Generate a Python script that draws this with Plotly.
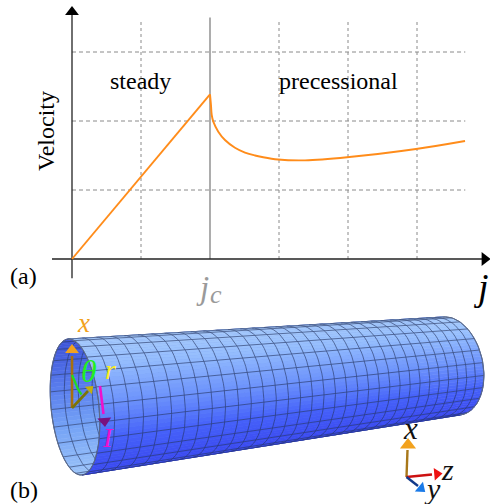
import numpy as np
import plotly.graph_objects as go

# ---------- panel (a) data (axis units: j, velocity) ----------
j_steady = [0.0, 2.0]
v_steady = [0.0, 2.387]
j_prec = [2.0, 2.014, 2.025, 2.048, 2.12, 2.217, 2.362, 2.507, 2.652, 2.754, 2.986, 3.377, 3.986, 4.986, 5.696]
v_prec = [2.387, 2.232, 2.087, 1.99, 1.845, 1.725, 1.613, 1.543, 1.5, 1.478, 1.442, 1.43, 1.474, 1.594, 1.71]
grid_j = [1, 3, 4, 5]
grid_v = [1, 2, 3]
j_c = 2
j_max_grid = 5.7
v_max_grid = 3.47

# ---------- panel (b) cylinder description (sketch units) ----------
ring_left = dict(cx=75.0, cy=407.0, a=24.0, vx=-7.0, vy=-68.0)
ring_right = dict(cx=451.5, cy=366.0, a=31.5, vx=-8.5, vy=-49.0)
n_rings = 33
n_rows = 24

GREY = "#8a8a8a"
ORANGE = "#ff8c1a"
SERIF = "Liberation Serif"

fig = go.Figure()


def line(x, y, color, width=1.0, dash=None, axes=("x", "y"), shape="linear", op=1.0):
    fig.add_trace(go.Scatter(x=x, y=y, mode="lines", xaxis=axes[0], yaxis=axes[1], opacity=op,
                             line=dict(color=color, width=width, dash=dash, shape=shape),
                             hoverinfo="skip", showlegend=False))


def head(x, y, angle, color, size, axes=("x", "y")):
    fig.add_trace(go.Scatter(x=[x], y=[y], mode="markers", xaxis=axes[0], yaxis=axes[1],
                             marker=dict(symbol="triangle-up", size=size, color=color, angle=angle,
                                         line=dict(width=0)),
                             hoverinfo="skip", showlegend=False))


# grid
for g in grid_j:
    line([g, g], [0, v_max_grid], GREY, 1.0, "3px,3px")
for g in grid_v:
    line([0, j_max_grid], [g, g], GREY, 1.0, "4px,3px")
line([j_c, j_c], [0, 3.5], "#808080", 1.3)

# axes
line([-0.29, 5.95], [0, 0], "#222222", 1.3)
line([0, 0], [-0.28, 3.6], "#222222", 1.3)
head(5.98, 0, 90, "#000000", 12)
head(0, 3.58, 0, "#000000", 12)

# curve
line(j_steady, v_steady, ORANGE, 1.9)
line(j_prec, v_prec, ORANGE, 1.9, shape="spline")

# ---------- cylinder ----------
B = ("x2", "y2")


def ring(t, phi):
    L, R = ring_left, ring_right
    cx = L["cx"] + t * (R["cx"] - L["cx"])
    cy = L["cy"] + t * (R["cy"] - L["cy"])
    a = L["a"] + t * (R["a"] - L["a"])
    vx = L["vx"] + t * (R["vx"] - L["vx"])
    vy = L["vy"] + t * (R["vy"] - L["vy"])
    return cx + a * np.cos(phi) * 0.994 + np.sin(phi) * vx, cy - a * np.cos(phi) * 0.108 + np.sin(phi) * vy


def mix(stops, s):
    xs = [p[0] for p in stops]
    return "rgb(%d,%d,%d)" % tuple(np.interp(s, xs, [p[1][i] for p in stops]) for i in range(3))


front_stops = [(-1, (58, 72, 240)), (-0.5, (70, 98, 250)), (0, (108, 146, 252)), (0.6, (150, 190, 254)), (1, (168, 204, 252))]
back_stops = [(-1, (156, 196, 250)), (-0.3, (118, 164, 246)), (0.3, (90, 126, 238)), (1, (60, 82, 216))]
spacing = np.linspace(15.0, 8.7, n_rings)          # columns get narrower towards the far end
ts = np.r_[0, np.cumsum(spacing)] / spacing.sum()
tt = np.linspace(0, 1, 40)
bands = 4


def strip(phi1, phi2, color):
    x1, y1 = ring(tt, phi1)
    x2, y2 = ring(tt[::-1], phi2)
    xs = np.r_[x1, x2, x1[0]]
    ys = np.r_[y1, y2, y1[0]]
    fig.add_trace(go.Scatter(x=xs, y=ys, mode="lines", fill="toself", fillcolor=color, xaxis="x2", yaxis="y2",
                             line=dict(color=color, width=0.6), hoverinfo="skip", showlegend=False))


dphi = 2 * np.pi / n_rows / bands
# back half (inside of the tube)
for k in range(n_rows // 2 * bands):
    p1 = np.pi / 2 + k * dphi
    strip(p1, p1 + dphi, mix(back_stops, np.sin(p1 + dphi / 2)))
fx, fy = [], []
for i in range(0, n_rows // 2 + 1):
    p = np.pi / 2 + i * 2 * np.pi / n_rows
    x, y = ring(tt, p)
    fx += list(x) + [None]
    fy += list(y) + [None]
for t in ts:
    x, y = ring(t, np.linspace(np.pi / 2, 3 * np.pi / 2, 40))
    fx += list(x) + [None]
    fy += list(y) + [None]
line(fx, fy, "#24345f", 0.8, axes=B, op=0.75)

# front half (outside of the tube)
for k in range(n_rows // 2 * bands):
    p1 = -np.pi / 2 + k * dphi
    strip(p1, p1 + dphi, mix(front_stops, np.sin(p1 + dphi / 2)))
fx, fy = [], []
for i in range(0, n_rows // 2 + 1):
    p = -np.pi / 2 + i * 2 * np.pi / n_rows
    x, y = ring(tt, p)
    fx += list(x) + [None]
    fy += list(y) + [None]
for t in ts:
    x, y = ring(t, np.linspace(-np.pi / 2, np.pi / 2, 40))
    fx += list(x) + [None]
    fy += list(y) + [None]
line(fx, fy, "#24345f", 0.8, axes=B, op=0.75)
# outlines
for t in (0.0, 1.0):
    x, y = ring(t, np.linspace(0, 2 * np.pi if t == 0 else np.pi, 80) - (0 if t == 0 else np.pi / 2))
    line(list(x), list(y), "#5f6b86", 1.0, axes=B)

# vectors in the tube
line([72, 72], [408, 356], "#a8700f", 2.6, axes=B)
head(72, 350, 0, "#f2a21e", 12, axes=B)
line([72, 88], [408, 391], "#7d7408", 2.6, axes=B)
head(90, 389, 47, "#c4b00c", 9, axes=B)
line([72, 75, 78, 81.5], [375, 382, 389, 394.5], "#22dd22", 2.2, axes=B, shape="spline")
line([100, 101.5, 103.5], [386, 398, 414], "#ee11cc", 2.6, axes=B, shape="spline")
head(104.5, 421, 175, "#7a1180", 12, axes=B)

# coordinate triad
line([406.5, 407.5], [477, 450], "#a8781a", 2.4, axes=B)
head(408, 445, 0, "#f2a21e", 14, axes=B)
line([406.5, 432], [477, 474.5], "#cc1111", 2.4, axes=B)
head(437, 474, 85, "#ee1111", 11, axes=B)
line([406.5, 418], [477, 486], "#123a8a", 2.4, axes=B)
head(421, 488.5, 130, "#1a7ae8", 11, axes=B)

# ---------- text ----------
texts = [
    ("steady", 140.5, 81, 24, "#000000", False, 0),
    ("precessional", 338, 81, 24, "#000000", False, 0),
    ("Velocity", 46, 131, 24, "#000000", False, -90),
    ("(a)", 23, 276, 24, "#000000", False, 0),
    ("(b)", 24, 490, 24, "#000000", False, 0),
    ("j", 202, 288, 33, "#9a9a9a", True, 0),
    ("c", 216, 294, 26, "#9a9a9a", True, 0),
    ("j", 481, 287, 38, "#000000", True, 0),
    ("x", 83, 323, 27, "#f2a21e", True, 0),
    ("θ", 89, 371, 32, "#22ee22", True, 0),
    ("r", 110, 369, 28, "#ffee22", True, 0),
    ("I", 108, 437, 28, "#ee11cc", True, 0),
    ("x", 410, 428, 31, "#111111", True, 0),
    ("z", 447, 469, 30, "#111111", True, 0),
    ("y", 432, 488, 30, "#111111", True, 0),
]
annotations = []
for s, x, y, size, col, ital, rot in texts:
    annotations.append(dict(text=f"<i>{s}</i>" if ital else s, x=x, y=y, xref="x2", yref="y2", showarrow=False,
                            xanchor="center", yanchor="middle", textangle=rot,
                            font=dict(family=SERIF, size=size, color=col)))

W, H = 490, 504
hidden = dict(visible=False, showgrid=False, zeroline=False, fixedrange=True)
fig.update_layout(
    width=W, height=H, margin=dict(l=0, r=0, t=0, b=0), paper_bgcolor="white", plot_bgcolor="white",
    showlegend=False, annotations=annotations,
    xaxis=dict(range=[(0 - 72) / 69, (W - 72) / 69], domain=[0, 1], **hidden),
    yaxis=dict(range=[(259 - H) / 69, 259 / 69], domain=[0, 1], **hidden),
    xaxis2=dict(range=[0, W], domain=[0, 1], overlaying="x", anchor="y2", **hidden),
    yaxis2=dict(range=[H, 0], domain=[0, 1], overlaying="y", anchor="x2", **hidden),
)
fig.write_html("out.html", config=dict(displayModeBar=False),
               post_script="document.body.style.margin='0';document.body.style.overflow='hidden';")
